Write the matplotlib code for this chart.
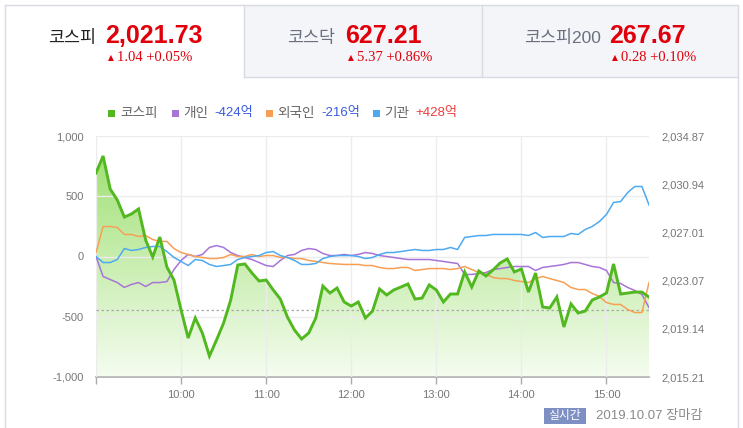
import numpy as np
import pandas as pd
import matplotlib
matplotlib.use("Agg")
import matplotlib.pyplot as plt
import matplotlib.dates as mdates
from matplotlib.patches import Rectangle
from matplotlib.lines import Line2D
from matplotlib.ticker import FuncFormatter

# ----------------------------------------------------------------------
# data (5-minute samples, 09:00 - 15:30)
# ----------------------------------------------------------------------
times = pd.date_range("2019-10-07 09:00", "2019-10-07 15:30", freq="5min")

kospi = [2031.85, 2033.24, 2030.55, 2029.65, 2028.26, 2028.51, 2028.92, 2026.39, 2025.00, 2026.63,
         2024.18, 2023.12, 2020.68, 2018.39, 2020.02, 2018.80, 2016.92, 2018.23, 2019.62, 2021.49,
         2024.35, 2024.43, 2023.69, 2023.04, 2023.12, 2022.31, 2021.57, 2020.10, 2019.04, 2018.31,
         2018.80, 2020.02, 2022.63, 2022.06, 2022.47, 2021.33, 2021.00, 2021.33, 2020.02, 2020.59,
         2022.39, 2021.90, 2022.31, 2022.55, 2022.80, 2021.57, 2021.65, 2022.72, 2022.31, 2021.33,
         2021.98, 2021.98, 2023.78, 2022.55, 2023.86, 2023.45, 2023.94, 2024.51, 2024.84, 2023.78,
         2024.02, 2022.14, 2023.69, 2020.92, 2020.84, 2021.74, 2019.29, 2021.17, 2020.43, 2020.59,
         2021.49, 2021.74, 2022.06, 2024.43, 2021.98, 2022.06, 2022.14, 2022.14, 2021.73]

individual = [0, -166, -191, -216, -257, -232, -216, -249, -216, -216,
              -208, -108, -33, 17, 0, 17, 75, 91, 75, 33,
              8, -8, -25, -50, -75, -83, -33, 8, 17, 50,
              66, 58, 25, 8, 8, 17, 8, 17, 33, 25,
              8, 0, -8, -17, -25, -25, -25, -25, -33, -41,
              -50, -58, -149, -149, -141, -133, -108, -100, -91, -83,
              -83, -83, -116, -91, -83, -75, -66, -50, -50, -66,
              -83, -91, -116, -216, -224, -257, -282, -315, -424]

foreign = [33, 249, 249, 241, 183, 183, 166, 174, 141, 125,
           125, 66, 33, 17, 0, -8, -17, -17, -8, 17,
           0, 0, 17, 0, 8, 8, -8, -8, -17, -17,
           -33, -41, -50, -58, -62, -66, -66, -66, -75, -75,
           -91, -100, -100, -91, -91, -116, -108, -100, -100, -100,
           -108, -100, -83, -108, -133, -149, -174, -183, -183, -199,
           -208, -216, -183, -166, -183, -199, -216, -257, -274, -274,
           -307, -332, -382, -398, -398, -440, -465, -465, -216]

institution = [0, -50, -50, -25, 66, 50, 58, 75, 83, 83,
               41, -8, -41, -75, -25, -33, -66, -83, -75, -66,
               -25, -8, 0, 8, 33, 41, 8, -8, -33, -66,
               -66, -58, -17, 0, 8, 8, 8, 0, -17, -8,
               17, 33, 33, 41, 50, 58, 50, 50, 58, 58,
               75, 58, 158, 166, 174, 174, 183, 183, 183, 183,
               183, 174, 199, 158, 166, 166, 166, 191, 183, 224,
               249, 290, 349, 448, 456, 531, 581, 581, 428]

prev_close = 2020.69
left_ticks = [-1000, -500, 0, 500, 1000]
right_ticks = [2015.21, 2019.14, 2023.07, 2027.01, 2030.94, 2034.87]

tabs = [  # name, value, change, pct
    ("코스피", "2,021.73", "1.04", "+0.05%"),
    ("코스닥", "627.21", "5.37", "+0.86%"),
    ("코스피200", "267.67", "0.28", "+0.10%"),
]
legend_items = [  # label, value, colour of series, colour of value
    ("코스피", "", "#52b81f", None),
    ("개인", "-424억", "#a874d8", "#3a5ae0"),
    ("외국인", "-216억", "#f7a055", "#3a5ae0"),
    ("기관", "+428억", "#4eaaf0", "#f03c3c"),
]

# ----------------------------------------------------------------------
# figure
# ----------------------------------------------------------------------
plt.rcParams["font.family"] = ["Liberation Sans", "Noto Sans CJK KR", "DejaVu Sans"]
W, H = 743, 428
fig = plt.figure(figsize=(W / 100, H / 100), dpi=100)


def fx(x):
    return x / W


def fy(y):
    return 1 - y / H


# tab frame
fig.add_artist(Rectangle((fx(244), fy(77)), fx(738) - fx(244), fy(5) - fy(77),
                         transform=fig.transFigure, facecolor="#f4f5f9", edgecolor="none"))
frame = "#d8dbe3"
for seg in [((5, 5), (5, 428)), ((738, 5), (738, 428)), ((5, 5), (738, 5)),
            ((244, 5), (244, 77)), ((482, 5), (482, 77)), ((244, 77), (738, 77))]:
    (x0, y0), (x1, y1) = seg
    fig.add_artist(Line2D([fx(x0), fx(x1)], [fy(y0), fy(y1)], transform=fig.transFigure,
                          color=frame, lw=1))

name_right = [96, 335, 601]
num_left = [105, 345, 609]
for i, (name, val, chg, pct) in enumerate(tabs):
    fig.text(fx(name_right[i]), fy(43), name, ha="right", va="baseline", fontsize=12.5,
             color="#222222" if i == 0 else "#6b7080")
    fig.text(fx(num_left[i]), fy(43), val, ha="left", va="baseline", fontsize=18,
             fontweight="bold", color="#e0000b")
    fig.text(fx(num_left[i] + 3), fy(60), "▲", ha="left", va="baseline", fontsize=5.5,
             color="#e0000b", family="DejaVu Sans")
    fig.text(fx(num_left[i] + 12), fy(61), f"{chg} {pct}", ha="left", va="baseline",
             fontsize=10.5, color="#e0000b", family="Liberation Serif")

# legend
sq_x = [108, 172, 266, 373]
lab_x = [120, 183, 277, 384]
val_x = [None, 214, 321, 415]
for i, (lab, val, col, vcol) in enumerate(legend_items):
    fig.add_artist(Rectangle((fx(sq_x[i]), fy(117)), 7 / W, 7 / H, transform=fig.transFigure,
                             facecolor=col, edgecolor="none"))
    fig.text(fx(lab_x[i]), fy(113), lab, ha="left", va="center", fontsize=9.8, color="#666666")
    if val:
        fig.text(fx(val_x[i]), fy(113), val, ha="left", va="center", fontsize=9.5, color=vcol)

# ----------------------------------------------------------------------
# chart
# ----------------------------------------------------------------------
x = mdates.date2num(times)
kmin, kmax = right_ticks[0], right_ticks[-1]

ax = fig.add_axes([fx(96), fy(377), (649 - 96) / W, (377 - 136) / H])
# gradient fill under KOSPI
poly = ax.fill_between(x, kospi, kmin, facecolor="none", edgecolor="none")
top = np.array([0.60, 0.87, 0.42])
bot = np.array([0.96, 0.99, 0.94])
t = np.linspace(0, 1, 256)[:, None]
grad = (bot + (top - bot) * t)[:, None, :]
im = ax.imshow(grad, extent=[x[0], x[-1], kmin, kmax], origin="lower", aspect="auto",
               interpolation="bilinear", zorder=0)
im.set_clip_path(poly.get_paths()[0], transform=ax.transData)
ax.axhline(prev_close, color="#aaaaaa", lw=0.9, ls=(0, (2, 2)), zorder=3)

ax.set_xlim(x[0], x[-1])
ax.set_ylim(kmin, kmax)
hour_ticks = mdates.date2num(pd.date_range("2019-10-07 09:00", "2019-10-07 15:00", freq="1h"))
ax.set_xticks(hour_ticks)
ax.set_xticklabels([""] + [pd.Timestamp(mdates.num2date(h)).strftime("%H:%M") for h in hour_ticks[1:]])
ax.tick_params(axis="x", length=5, width=1, color="#aaaaaa", pad=4, labelsize=8,
               labelcolor="#777777")
ax.set_axisbelow(False)
ax.xaxis.grid(True, color="#ececec", lw=1)
for s in ["top", "left", "right"]:
    ax.spines[s].set_visible(False)
ax.spines["bottom"].set_color("#aaaaaa")
ax.spines["bottom"].set_linewidth(1.2)

# investor flows (left scale)
ax2 = ax.twinx()
ax2.plot(x, individual, color="#a874d8", lw=1.1)
ax2.plot(x, foreign, color="#f7a055", lw=1.1)
ax2.plot(x, institution, color="#4eaaf0", lw=1.1)
ax2.set_ylim(-1000, 1000)
ax2.set_axisbelow(True)
ax2.yaxis.grid(True, color="#ececec", lw=1)
for s in ax2.spines.values():
    s.set_visible(False)

# KOSPI line on top
ax3 = ax.twinx()
ax3.plot(x, kospi, color="#52b81f", lw=2.1, solid_joinstyle="miter")
ax3.set_ylim(kmin, kmax)
ax3.set_yticks([])
for s in ax3.spines.values():
    s.set_visible(False)

# tick sides (after twinx, which resets them)
ax.yaxis.tick_right()
ax.set_yticks(right_ticks)
ax.yaxis.set_major_formatter(FuncFormatter(lambda v, p: f"{v:,.2f}"))
ax.tick_params(axis="y", length=0, pad=9, labelsize=8, labelcolor="#777777")
ax2.yaxis.tick_left()
ax2.set_yticks(left_ticks)
ax2.yaxis.set_major_formatter(FuncFormatter(lambda v, p: f"{v:,.0f}"))
ax2.tick_params(axis="y", length=0, pad=9, labelsize=8, labelcolor="#777777")

# footer
fig.add_artist(Rectangle((fx(544), fy(424)), 42 / W, 16 / H, transform=fig.transFigure,
                         facecolor="#7d8fc3", edgecolor="none"))
fig.text(fx(565), fy(416), "실시간", ha="center", va="center", fontsize=8.5, color="white")
fig.text(fx(596), fy(416), "2019.10.07 장마감", ha="left", va="center", fontsize=9.5,
         color="#8a8a8a")

fig.savefig("out.png", dpi=100)
